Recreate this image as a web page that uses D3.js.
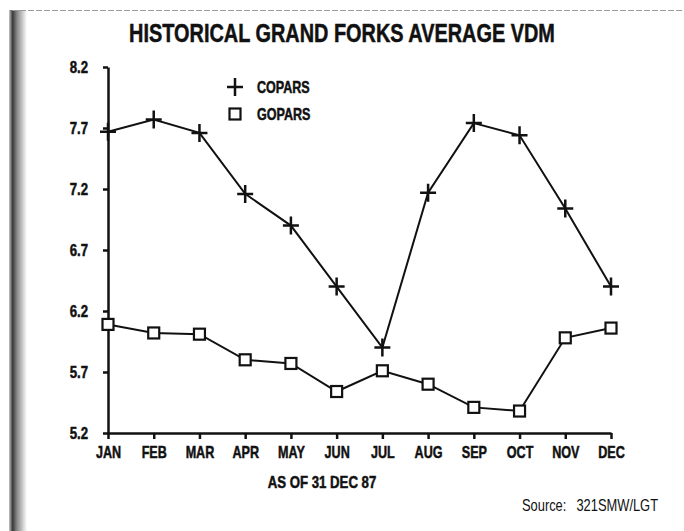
<!DOCTYPE html>
<html lang='en'>
<head>
    <meta charset='UTF-8'>
    <script src='https://d3js.org/d3.v7.min.js'></script>
    <title>Historical Grand Forks Average VDM</title>
    <style>
      body { margin: 0; background: #fff; }
      text { font-family: 'Liberation Sans', Arial, sans-serif; fill: #111; }
      .heavy { stroke: #111; stroke-width: 0.5px; }
    </style>
</head>
<body>
<svg id='chart' width='684' height='531'></svg>

<script>
// values
const months = ['JAN','FEB','MAR','APR','MAY','JUN','JUL','AUG','SEP','OCT','NOV','DEC']
const copars = [7.67, 7.77, 7.66, 7.16, 6.90, 6.40, 5.90, 7.17, 7.74, 7.64, 7.04, 6.40]
const gopars = [6.09, 6.02, 6.01, 5.80, 5.77, 5.54, 5.71, 5.60, 5.41, 5.38, 5.98, 6.06]
const yTicks = [5.2, 5.7, 6.2, 6.7, 7.2, 7.7, 8.2]

const svg = d3.select('#chart')

// squeeze text horizontally, the original uses a condensed face
function condense(sel, f) {
  sel.each(function () {
    let w = this.getComputedTextLength()
    d3.select(this).attr('textLength', w * f).attr('lengthAdjust', 'spacingAndGlyphs')
  })
}

// scanned page edge: dark strip on the left, faint line on top
const grad = svg.append('defs').append('linearGradient').attr('id', 'edge')
grad.append('stop').attr('offset', '0%').attr('stop-color', '#c8c8c8')
grad.append('stop').attr('offset', '20%').attr('stop-color', '#3a3a3a')
grad.append('stop').attr('offset', '45%').attr('stop-color', '#8a8a8a')
grad.append('stop').attr('offset', '100%').attr('stop-color', '#ffffff')
svg.append('rect').attr('x', 0).attr('y', 0).attr('width', 684).attr('height', 531).attr('fill', '#fff')
svg.append('rect').attr('x', 9).attr('y', 10).attr('width', 18).attr('height', 521).attr('fill', 'url(#edge)')
svg.append('line').attr('x1', 12).attr('x2', 684).attr('y1', 10.5).attr('y2', 10.5)
  .style('stroke', '#999').style('stroke-width', 1.2).style('stroke-dasharray', '6,2')

let x = d3.scalePoint().domain(months).range([108, 611])
let y = d3.scaleLinear().domain([5.2, 8.2]).range([433, 67])

// title, scaled to the width of the original condensed lettering
let title = svg.append('text')
  .attr('class', 'heavy')
  .attr('text-anchor', 'middle')
  .style('font-size', '26px').style('font-weight', 'bold')
  .text('HISTORICAL GRAND FORKS AVERAGE VDM')
let tw = title.node().getComputedTextLength()
title.attr('transform', `translate(342,42) scale(${426 / tw},1)`)

// axes
let yAxis = svg.append('g')
  .attr('transform', 'translate(108,0)')
  .call(d3.axisLeft(y).tickValues(yTicks).tickFormat(d3.format('.1f')).tickSize(5).tickSizeOuter(0))
let xAxis = svg.append('g')
  .attr('transform', 'translate(0,433)')
  .call(d3.axisBottom(x).tickSize(6).tickSizeOuter(0))

svg.selectAll('.domain').style('stroke', '#111').style('stroke-width', 2.5)
svg.selectAll('.tick line').style('stroke', '#111').style('stroke-width', 2.5)
yAxis.selectAll('text')
  .attr('class', 'heavy')
  .attr('x', -20).attr('dy', '0.36em')
  .style('font-size', '16.5px').style('font-weight', 'bold').style('font-family', "'Liberation Sans', sans-serif")
  .call(condense, 0.8)
xAxis.selectAll('text')
  .attr('class', 'heavy')
  .attr('y', 13)
  .style('font-size', '17px').style('font-weight', 'bold').style('font-family', "'Liberation Sans', sans-serif")
  .call(condense, 0.74)

// lines
let line = d3.line().x((d, i) => x(months[i])).y(d => y(d))
svg.append('path').datum(copars).attr('d', line)
  .style('fill', 'none').style('stroke', '#111').style('stroke-width', 2)
svg.append('path').datum(gopars).attr('d', line)
  .style('fill', 'none').style('stroke', '#111').style('stroke-width', 2)

// markers
function drawCross(g, cx, cy) {
  g.append('path')
    .attr('d', `M${cx - 8},${cy}H${cx + 8}M${cx},${cy - 9}V${cy + 9}`)
    .style('stroke', '#111').style('stroke-width', 2.5).style('fill', 'none')
}
function drawSquare(g, cx, cy) {
  g.append('rect')
    .attr('x', cx - 5.5).attr('y', cy - 5.5).attr('width', 11).attr('height', 11)
    .style('fill', '#fff').style('stroke', '#111').style('stroke-width', 2.2)
}
let marks = svg.append('g')
copars.forEach((d, i) => drawCross(marks, x(months[i]), y(d)))
gopars.forEach((d, i) => drawSquare(marks, x(months[i]), y(d)))

// legend
let legend = svg.append('g')
drawCross(legend, 235, 87)
drawSquare(legend, 235, 114)
legend.append('text').attr('x', 257).attr('y', 93).text('COPARS')
legend.append('text').attr('x', 257).attr('y', 120).text('GOPARS')
legend.selectAll('text')
  .attr('class', 'heavy')
  .style('font-size', '16.5px').style('font-weight', 'bold')
  .call(condense, 0.76)

// footnotes
svg.append('text').attr('x', 322).attr('y', 488)
  .attr('class', 'heavy')
  .attr('text-anchor', 'middle')
  .style('font-size', '16.5px').style('font-weight', 'bold')
  .text('AS OF 31 DEC 87')
  .call(condense, 0.8)
svg.append('text').attr('x', 522).attr('y', 511)
  .style('font-size', '16.5px')
  .text('Source:')
  .call(condense, 0.78)
svg.append('text').attr('x', 658).attr('y', 511)
  .attr('text-anchor', 'end')
  .style('font-size', '16.5px')
  .text('321SMW/LGT')
  .call(condense, 0.78)
</script>
</body>
</html>
